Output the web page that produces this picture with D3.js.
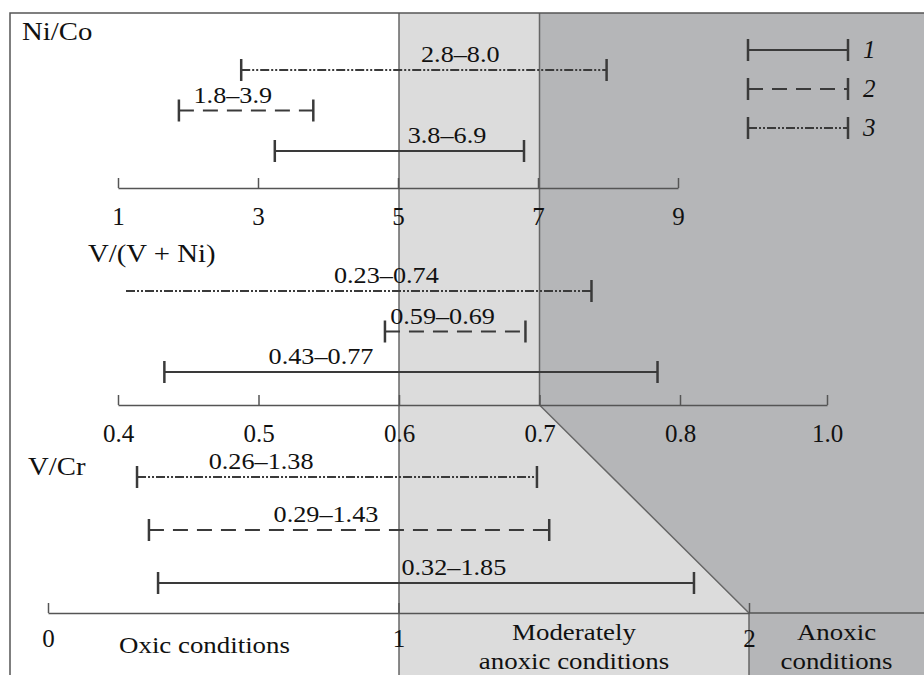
<!DOCTYPE html>
<html lang="en">
<head>
  <meta charset="UTF-8">
  <title>Ni/Co, V/(V+Ni), V/Cr redox ranges</title>
  <script src="https://cdnjs.cloudflare.com/ajax/libs/d3/7.8.5/d3.min.js"></script>
  <style>
    body { margin: 0; background: #fff; }
    svg text { font-family: "Liberation Serif", "Times New Roman", serif; fill: #111; }
    .axis .domain, .axis line { stroke: #555; stroke-width: 1.5px; }
    .axis text { font-size: 25px; }
    .frame { stroke: #555; stroke-width: 1.5px; fill: none; }
    .bound { stroke: #666; stroke-width: 1.5px; fill: none; }
    .bar { stroke: #3a3a3a; fill: none; }
    .cap { stroke: #3a3a3a; stroke-width: 2.5px; }
  </style>
</head>
<body>
  <svg width="924" height="675"></svg>
  <script>
    // series ids used in the legend (1, 2, 3)
    var series = ["1", "2", "3"]

    // Ni/Co (order: series 1, 2, 3) -- ends as drawn in the figure
    var niCoTicks = [1, 3, 5, 7, 9]
    var niCoLow = [3.24, 1.87, 2.76]
    var niCoHigh = [6.8, 3.79, 7.98]
    var niCoText = ["3.8–6.9", "1.8–3.9", "2.8–8.0"]
    var niCoTextAt = [5.7, 2.64, 5.89]

    // V/(V + Ni)
    var vvTicks = [0.4, 0.5, 0.6, 0.7, 0.8, 1.0]
    var vvLow = [0.433, 0.59, 0.23]
    var vvHigh = [0.784, 0.69, 0.737]
    var vvText = ["0.43–0.77", "0.59–0.69", "0.23–0.74"]
    var vvTextAt = [0.5445, 0.631, 0.591]

    // V/Cr
    var vcTicks = [0, 1, 2]
    var vcLow = [0.314, 0.288, 0.254]
    var vcHigh = [1.843, 1.43, 1.395]
    var vcText = ["0.32–1.85", "0.29–1.43", "0.26–1.38"]
    var vcTextAt = [1.158, 0.793, 0.608]

    var zoneNames = [["Oxic conditions"], ["Moderately", "anoxic conditions"], ["Anoxic", "conditions"]]

    var W = 924, H = 675, frameTop = 13, frameLeft = 10
    var dash = { "1": null, "2": "15,9", "3": "9,2,2,2,2,2" }
    var width = { "1": 2.2, "2": 2, "3": 1.8 }

    var svg = d3.select("svg")

    var xNi = d3.scaleLinear().domain([1, 9]).range([118, 678])
    var xVV = d3.scaleLinear().domain([0.4, 0.8, 1.0]).range([118, 680, 827])
    var xVC = d3.scaleLinear().domain([0, 2]).range([48, 749])

    var panels = [
      { title: "Ni/Co", tx: 22, ty: 40, x: xNi, ticks: niCoTicks, fmt: d3.format("d"), axisY: 188, rows: [70, 151],
        lo: niCoLow, hi: niCoHigh, text: niCoText, at: niCoTextAt },
      { title: "V/(V + Ni)", tx: 88, ty: 262, x: xVV, ticks: vvTicks, fmt: d3.format(".1f"), axisY: 405, rows: [291, 372],
        lo: vvLow, hi: vvHigh, text: vvText, at: vvTextAt },
      { title: "V/Cr", tx: 28, ty: 475, x: xVC, ticks: vcTicks, fmt: d3.format("d"), axisY: 613, rows: [477, 583],
        lo: vcLow, hi: vcHigh, text: vcText, at: vcTextAt }
    ]

    // zone boundaries
    var b1 = xVV(0.6), b2 = xVV(0.7), b3 = xVC(2)
    var yVV = panels[1].axisY, yVC = panels[2].axisY

    svg.append("polygon")
      .attr("points", [[b1, frameTop], [b2, frameTop], [b2, yVV], [b3, yVC], [b3, H], [b1, H]].join(" "))
      .attr("fill", "#dcdcdc")
    svg.append("polygon")
      .attr("points", [[b2, frameTop], [W, frameTop], [W, H], [b3, H], [b3, yVC], [b2, yVV]].join(" "))
      .attr("fill", "#b5b6b8")

    svg.append("line").attr("class", "bound").attr("x1", b1).attr("x2", b1).attr("y1", frameTop).attr("y2", H)
    svg.append("path").attr("class", "bound")
      .attr("d", d3.line()([[b2, frameTop], [b2, yVV], [b3, yVC], [b3, H]]))

    // frame
    svg.append("path").attr("class", "frame").attr("d", d3.line()([[frameLeft, H], [frameLeft, frameTop], [W, frameTop]]))

    // the source figure's type is a bit wider than Times, so stretch horizontally
    function stretched(g, x, y, txt, size, sx, anchor, italic) {
      return g.append("text")
        .attr("transform", "translate(" + x + "," + y + ") scale(" + sx + ",1)")
        .attr("text-anchor", anchor || "middle")
        .style("font-size", size + "px")
        .style("font-style", italic ? "italic" : null)
        .text(txt)
    }

    function rangeBar(g, x0, x1, y, s, capLeft) {
      g.append("line").attr("class", "bar")
        .attr("x1", x0).attr("x2", x1).attr("y1", y).attr("y2", y)
        .attr("stroke-width", width[s])
        .attr("stroke-dasharray", dash[s])
      var ends = capLeft ? [x0, x1] : [x1]
      ends.forEach(function (x) {
        g.append("line").attr("class", "cap")
          .attr("x1", x).attr("x2", x).attr("y1", y - 11).attr("y2", y + 11)
      })
    }

    panels.forEach(function (p, pi) {
      var g = svg.append("g")
      var ax = d3.axisTop(p.x).tickValues(p.ticks).tickFormat(p.fmt).tickSize(10).tickSizeOuter(0)
      var axG = g.append("g").attr("class", "axis")
        .attr("transform", "translate(0," + p.axisY + ")")
        .call(ax)
      axG.selectAll(".tick text").attr("y", pi === 2 ? 34 : 37).attr("dy", 0).attr("fill", "#111")
      if (pi === 2) {
        g.append("line").attr("x1", p.x.range()[1]).attr("x2", W)
          .attr("y1", p.axisY).attr("y2", p.axisY)
          .attr("stroke", "#555").attr("stroke-width", 1.5)
      }

      stretched(g, p.tx, p.ty, p.title, 25, 1.15, "start")

      var y = d3.scalePoint().domain(["3", "2", "1"]).range(p.rows)
      series.forEach(function (s, i) {
        var d0 = p.x.domain()[0]
        var open = p.lo[i] < d0
        var x0 = open ? p.x(d0) + 8 : p.x(p.lo[i])
        rangeBar(g, x0, p.x(p.hi[i]), y(s), s, !open)
        stretched(g, p.x(p.at[i]), y(s) - 8, p.text[i], 23, 1.14)
      })
    })

    // zone names along the bottom
    var zoneCenters = [(frameLeft + b1) / 2, (b1 + b3) / 2, (b3 + W) / 2]
    zoneNames.forEach(function (lines, i) {
      lines.forEach(function (t, j) {
        var yy = lines.length === 1 ? 653 : 640 + j * 29
        stretched(svg, zoneCenters[i], yy, t, 24, 1.12)
      })
    })

    // legend
    var lg = svg.append("g")
    var ly = d3.scalePoint().domain(series).range([50, 128])
    series.forEach(function (s) {
      rangeBar(lg, 748, 848, ly(s), s, true)
      stretched(lg, 863, ly(s) + 8, s, 25, 1.0, "start", true)
    })
  </script>
</body>
</html>
